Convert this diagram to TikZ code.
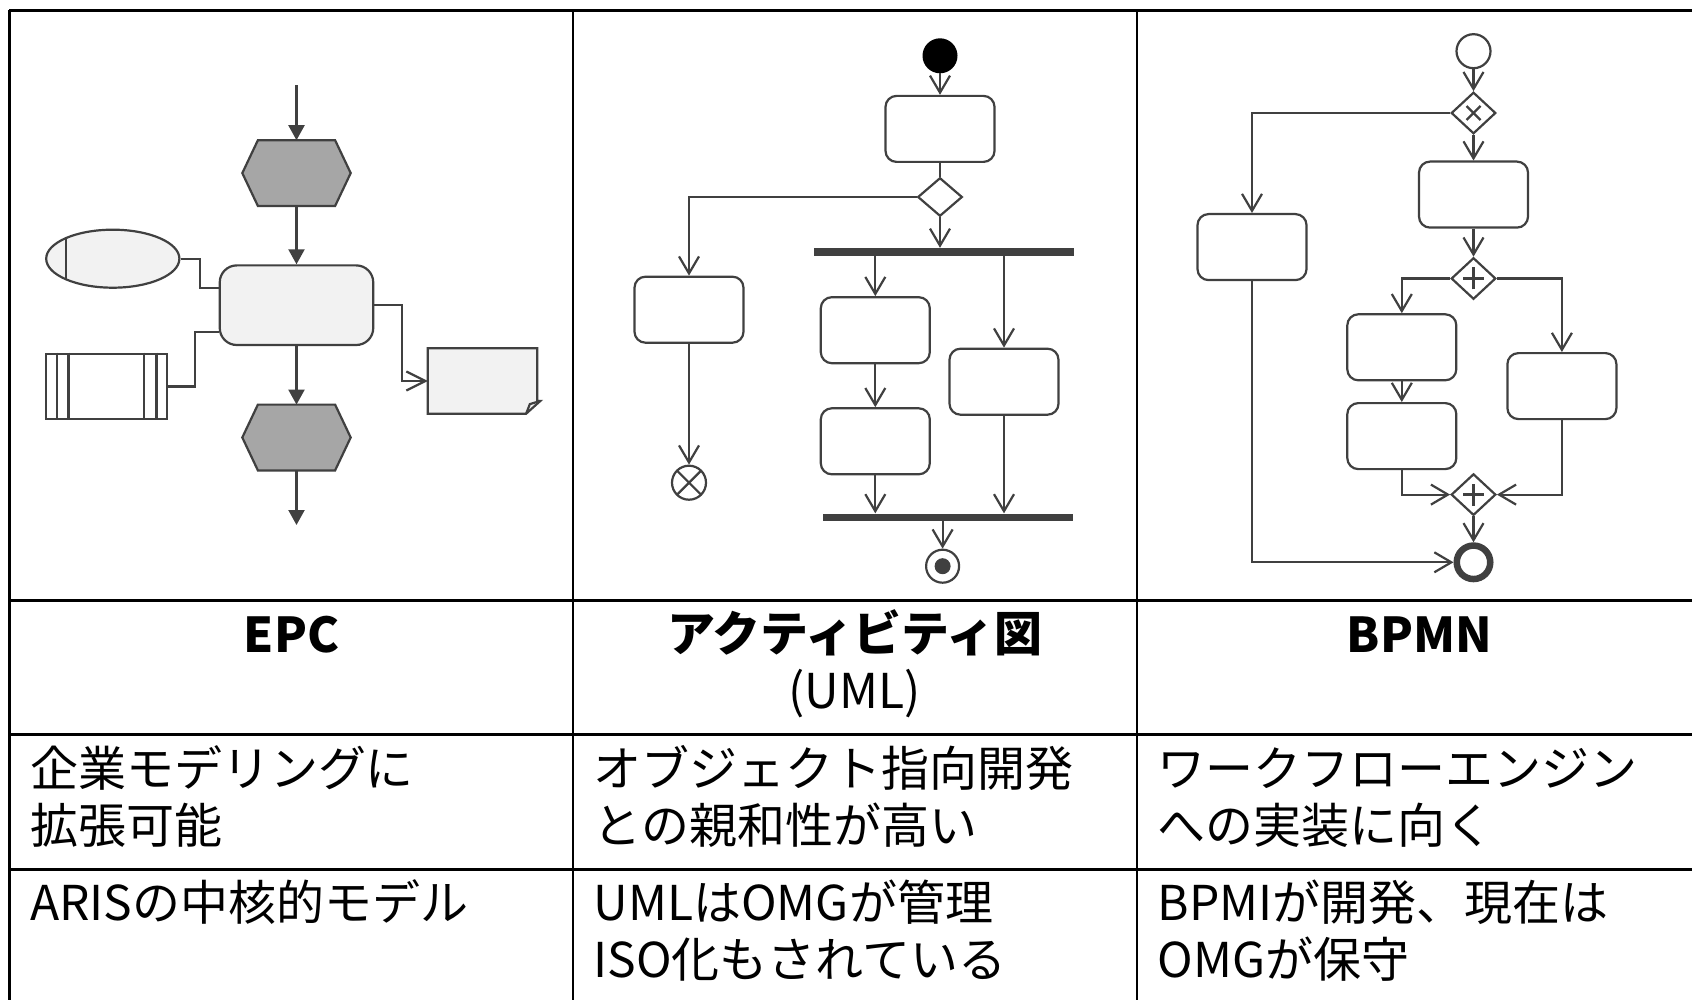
\documentclass[tikz,border=0pt]{standalone}
\usepackage{fontspec}
\setmainfont{Noto Sans CJK JP}
\usetikzlibrary{arrows.meta,shapes.geometric}
\definecolor{dk}{HTML}{404040}
\definecolor{lt}{HTML}{F2F2F2}
\definecolor{hexg}{HTML}{A6A6A6}
\tikzset{
  ln/.style={draw=dk, line width=2.2pt},
  arr/.style={ln, -{Straight Barb[length=17pt,width=20pt]}},
  farr/.style={ln, -{Triangle[length=15pt,width=16pt]}},
  act/.style={rectangle, draw=dk, line width=2.2pt, rounded corners=11pt, minimum width=109pt, minimum height=66pt, inner sep=0pt, fill=white},
  gw/.style={diamond, draw=dk, line width=2.2pt, minimum width=44.6pt, minimum height=40pt, inner sep=0pt, fill=white},
  bar/.style={rectangle, fill=dk, inner sep=0pt},
  evtbox/.style={rectangle, inner sep=0pt, minimum width=108pt, minimum height=65.4pt},
  tbl/.style={draw=black, line width=2.5pt},
  txt/.style={inner sep=0pt, font=\fontsize{48pt}{57pt}\selectfont, text=black},
}
\begin{document}
\begin{tikzpicture}[x=1pt,y=-1pt]
\useasboundingbox (0,0) rectangle (1692,1000);
\clip (0,0) rectangle (1692,1000);
\fill[white] (0,0) rectangle (1692,1000);

% ---------- table grid ----------
\draw[tbl] (9.3,10.5) -- (1700,10.5);
\draw[tbl] (9.3,600.5) -- (1700,600.5);
\draw[tbl] (9.3,734.3) -- (1700,734.3);
\draw[tbl] (9.3,869.3) -- (1700,869.3);
\draw[tbl] (9.3,10.5) -- (9.3,1010);
\draw[tbl] (573.2,10.5) -- (573.2,1010);
\draw[tbl] (1136.8,10.5) -- (1136.8,1010);

% ---------- EPC ----------
\coordinate (epcin) at (296.5,85.4);
\node[evtbox] (ev1) at (296.5,173.1) {};
\node[rectangle, draw=dk, line width=2.2pt, fill=lt, rounded corners=17pt, minimum width=153.5pt, minimum height=79.6pt, inner sep=0pt] (fn) at (296.5,305.2) {};
\node[evtbox] (ev2) at (296.5,437.5) {};
\coordinate (epcout) at (296.5,525);
\node[ellipse, draw=dk, line width=2.2pt, fill=lt, minimum width=133.2pt, minimum height=58pt, inner sep=0pt] (org) at (112.8,258.7) {};
\node[rectangle, draw=dk, line width=2.2pt, fill=white, minimum width=121pt, minimum height=65.4pt, inner sep=0pt] (sys) at (106.7,386.5) {};
\node[rectangle, inner sep=0pt, minimum width=109.1pt, minimum height=65pt] (doc) at (482.5,381) {};

\foreach \h in {ev1,ev2}{
  \draw[ln, fill=hexg, line join=miter] ([xshift=15.6pt]\h.north west) -- ([xshift=-15.6pt]\h.north east) -- (\h.east)
    -- ([xshift=-15.6pt]\h.south east) -- ([xshift=15.6pt]\h.south west) -- (\h.west) -- cycle;
}
\draw[ln] ([shift={(-47pt,20.3pt)}]org.center) -- ([shift={(-47pt,-20.3pt)}]org.center);
\draw[ln] ([xshift=11.9pt]sys.north west) -- ([xshift=11.9pt]sys.south west);
\draw[ln] ([xshift=23.3pt]sys.north west) -- ([xshift=23.3pt]sys.south west);
\draw[ln] ([xshift=-24.1pt]sys.north east) -- ([xshift=-24.1pt]sys.south east);
\draw[ln] ([xshift=-11.9pt]sys.north east) -- ([xshift=-11.9pt]sys.south east);
\draw[ln, fill=lt] (doc.north west) -- (doc.north east) -- ([yshift=12.7pt]doc.south east)
   -- ([xshift=3pt,yshift=12.7pt]doc.south east) -- ([xshift=-11.1pt]doc.south east) -- (doc.south west) -- cycle;
\draw[ln] ([xshift=-11.1pt]doc.south east) -- ([xshift=-7.4pt,yshift=9.6pt]doc.south east) -- ([xshift=3pt,yshift=12.7pt]doc.south east);

\draw[farr] (epcin) -- (ev1.north);
\draw[farr] (ev1.south) -- (fn.north);
\draw[farr] (fn.south) -- (ev2.north);
\draw[farr] (ev2.south) -- (epcout);
\draw[ln] (org.east) -- ++(19.3,0) |- ([yshift=17.5pt]fn.west);
\draw[ln] (sys.east) -- ++(26.6,0) |- ([yshift=-27.1pt]fn.west);
\draw[ln, -{Straight Barb[length=19pt,width=19pt]}] (fn.east) -- ++(27.7,0) |- (doc.west);

% ---------- UML activity ----------
\node[circle, fill=black, minimum size=35pt, inner sep=0pt] (ustart) at (940,55.8) {};
\node[act] (a1) at (940,128.9) {};
\node[gw, minimum height=38.5pt] (dec) at (940,197) {};
\node[act] (b) at (689,309.7) {};
\node[circle, draw=dk, line width=2.2pt, fill=white, minimum size=34pt, inner sep=0pt] (ff) at (689,482.7) {};
\node[bar, minimum width=260pt, minimum height=7.8pt] (fork) at (943.5,251.9) {};
\node[act] (c1) at (875.3,330.2) {};
\node[act] (c2) at (875.3,441.3) {};
\node[act] (d) at (1004,381.7) {};
\node[bar, minimum width=250.5pt, minimum height=7.7pt] (join) at (948.2,517.4) {};
\node[circle, draw=dk, line width=2.2pt, fill=white, minimum size=33pt, inner sep=0pt] (ufin) at (942.6,566.2) {};
\node[circle, fill=dk, minimum size=16pt, inner sep=0pt] (ufindot) at (ufin.center) {};
\draw[ln] ([shift={(-12pt,12pt)}]ff.center) -- ([shift={(12pt,-12pt)}]ff.center);
\draw[ln] ([shift={(-12pt,-12pt)}]ff.center) -- ([shift={(12pt,12pt)}]ff.center);

\draw[arr] (ustart.south) -- (a1.north);
\draw[ln] (a1.south) -- (dec.north);
\draw[arr] (dec.west) -| (b.north);
\draw[arr] (dec.south) -- (dec.south |- fork.north);
\draw[arr] (b.south) -- (ff.north);
\draw[arr] (c1.north |- fork.south) -- (c1.north);
\draw[arr] (c1.south) -- (c2.north);
\draw[arr] (c2.south) -- (c2.south |- join.north);
\draw[arr] (d.north |- fork.south) -- (d.north);
\draw[arr] (d.south) -- (d.south |- join.north);
\draw[arr] (join.south -| ufin.north) -- (ufin.north);

% ---------- BPMN ----------
\node[circle, draw=dk, line width=2.2pt, fill=white, minimum size=34pt, inner sep=0pt] (bstart) at (1473.5,51.2) {};
\node[gw, minimum height=41.5pt] (xor) at (1473.5,113) {};
\node[act] (f) at (1473.5,194.6) {};
\node[act] (e) at (1252,247.1) {};
\node[gw, minimum height=41.5pt] (and1) at (1473.5,278.5) {};
\node[act] (g) at (1401.8,347.3) {};
\node[act] (h) at (1561.9,386.1) {};
\node[act] (i) at (1401.8,436.1) {};
\node[gw, minimum height=41.5pt] (and2) at (1473.5,494.6) {};
\node[circle, draw=dk, line width=6.5pt, fill=white, minimum size=33.5pt, inner sep=0pt] (bend) at (1473.5,562.3) {};

\draw[ln] ([shift={(-7pt,7pt)}]xor.center) -- ([shift={(7pt,-7pt)}]xor.center);
\draw[ln] ([shift={(-7pt,-7pt)}]xor.center) -- ([shift={(7pt,7pt)}]xor.center);
\foreach \a in {and1,and2}{
  \draw[ln, line width=2.6pt] ([xshift=-10.5pt]\a.center) -- ([xshift=10.5pt]\a.center);
  \draw[ln, line width=2.6pt] ([yshift=-11pt]\a.center) -- ([yshift=11pt]\a.center);
}

\draw[arr] (bstart.south) -- (xor.north);
\draw[arr] (xor.west) -| (e.north);
\draw[arr] (xor.south) -- (f.north);
\draw[arr] (f.south) -- (and1.north);
\draw[arr] (and1.west) -| (g.north);
\draw[arr] (and1.east) -| (h.north);
\draw[arr] (g.south) -- (i.north);
\draw[arr] (i.south) |- (and2.west);
\draw[arr] (h.south) |- (and2.east);
\draw[arr] (and2.south) -- (bend.north);
\draw[arr] (e.south) |- (bend.west);

% ---------- texts ----------
\node[txt, anchor=base] (t1) at (291.5,652) {\bfseries EPC};
\node[txt, anchor=base] (t2) at (855,651) {\bfseries アクティビティ図};
\node[txt, anchor=base] (t2b) at (854.5,708) {(UML)};
\node[txt, anchor=base] (t3) at (1419.4,652) {\bfseries BPMN};

\node[txt, anchor=base west] (r11) at (29.8,786) {企業モデリングに};
\node[txt, anchor=base west] (r12) at (29.8,843) {拡張可能};
\node[txt, anchor=base west] (r13) at (29.8,920) {ARISの中核的モデル};
\node[txt, anchor=base west] (r21) at (593.5,786) {オブジェクト指向開発};
\node[txt, anchor=base west] (r22) at (593.5,843) {との親和性が高い};
\node[txt, anchor=base west] (r23) at (593.5,920) {UMLはOMGが管理};
\node[txt, anchor=base west] (r24) at (593.5,977) {ISO化もされている};
\node[txt, anchor=base west] (r31) at (1157.5,786) {ワークフローエンジン};
\node[txt, anchor=base west] (r32) at (1157.5,843) {への実装に向く};
\node[txt, anchor=base west] (r33) at (1157.5,920) {BPMIが開発、現在は};
\node[txt, anchor=base west] (r34) at (1157.5,977) {OMGが保守};
\end{tikzpicture}
\end{document}
